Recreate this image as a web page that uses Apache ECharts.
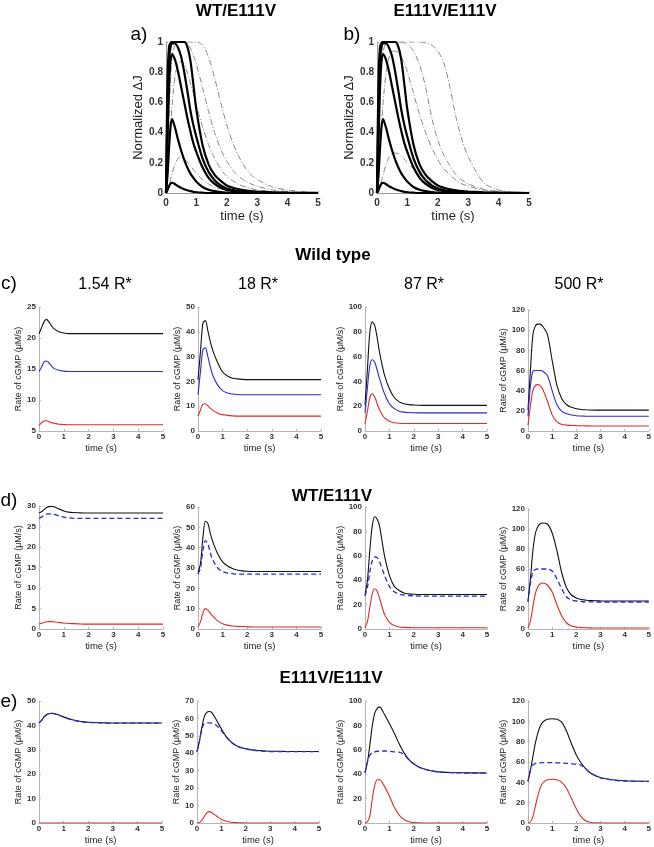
<!DOCTYPE html>
<html>
<head>
<meta charset="utf-8">
<script src="https://cdn.jsdelivr.net/npm/echarts@6/dist/echarts.min.js"></script>
<style>html,body{margin:0;padding:0;background:#fff}#main{width:654px;height:847px}</style>
</head>
<body>
<div id="main"></div>
<script>
// sample times (s)
const tTop = [0,0.05,0.1,0.15,0.2,0.3,0.4,0.5,0.6,0.7,0.8,0.9,1.0,1.2,1.4,1.6,1.8,2.0,2.2,2.4,2.6,2.8,3.0,3.5,4.0,4.5,5.0];
const tRate = [0,0.1,0.2,0.3,0.4,0.5,0.6,0.8,1.0,1.2,1.4,1.6,1.8,2.0,2.2,2.4,2.6,2.8,3.0,3.5,4.0,5.0];

// normalized dJ, black (thick) curves, same in a) and b)
const normB1 = [0,0.02,0.045,0.063,0.068,0.058,0.045,0.034,0.025,0.018,0.012,0.008,0.005,0.002,0,0,0,0,0,0,0,0,0,0,0,0,0];
const normB2 = [0,0.12,0.3,0.44,0.49,0.43,0.35,0.28,0.22,0.17,0.13,0.1,0.075,0.04,0.022,0.012,0.006,0.003,0.001,0,0,0,0,0,0,0,0];
const normB3 = [0,0.35,0.7,0.88,0.92,0.88,0.8,0.7,0.6,0.5,0.41,0.33,0.27,0.17,0.1,0.06,0.035,0.02,0.012,0.007,0.004,0.002,0.001,0,0,0,0];
const normB4 = [0,0.55,0.88,0.97,0.99,0.99,0.96,0.9,0.8,0.68,0.55,0.45,0.37,0.23,0.14,0.085,0.05,0.03,0.02,0.012,0.008,0.005,0.003,0.001,0,0,0];
const normB5 = [0,0.75,0.97,0.995,1,1,1,1,1,0.97,0.88,0.72,0.55,0.32,0.19,0.12,0.08,0.05,0.035,0.025,0.018,0.013,0.01,0.005,0.002,0.001,0];
// grey dash-dot curves, a) WT/E111V
const normGa1 = [0,0.02,0.05,0.09,0.13,0.19,0.23,0.235,0.225,0.205,0.18,0.155,0.13,0.09,0.06,0.04,0.027,0.018,0.012,0.008,0.005,0.003,0.002,0.001,0,0,0];
const normGa2 = [0,0.1,0.25,0.42,0.58,0.78,0.86,0.87,0.85,0.8,0.73,0.66,0.58,0.44,0.32,0.23,0.16,0.11,0.08,0.055,0.04,0.03,0.02,0.01,0.005,0.002,0.001];
const normGa3 = [0,0.2,0.5,0.75,0.9,0.98,1,1,1,0.99,0.96,0.91,0.85,0.7,0.54,0.4,0.29,0.21,0.15,0.11,0.08,0.06,0.045,0.02,0.01,0.005,0.002];
const normGa4 = [0,0.4,0.8,0.95,0.99,1,1,1,1,1,1,1,1,0.98,0.9,0.76,0.6,0.45,0.33,0.24,0.17,0.12,0.09,0.04,0.02,0.01,0.005];
// grey dash-dot curves, b) E111V/E111V
const normGb1 = [0,0.015,0.04,0.08,0.12,0.19,0.24,0.26,0.265,0.26,0.245,0.225,0.2,0.16,0.12,0.09,0.065,0.048,0.035,0.025,0.018,0.013,0.009,0.004,0.002,0.001,0];
const normGb2 = [0,0.1,0.27,0.45,0.6,0.8,0.9,0.935,0.94,0.93,0.9,0.86,0.8,0.66,0.52,0.4,0.3,0.22,0.16,0.12,0.085,0.06,0.045,0.02,0.01,0.005,0.002];
const normGb3 = [0,0.3,0.65,0.85,0.94,0.99,1,1,1,1,1,0.995,0.985,0.94,0.85,0.7,0.5,0.35,0.25,0.18,0.12,0.085,0.06,0.025,0.01,0.005,0.002];
const normGb4 = [0,0.4,0.8,0.95,0.99,1,1,1,1,1,1,1,1,1,1,0.995,0.98,0.94,0.86,0.7,0.5,0.35,0.24,0.07,0.02,0.005,0.002];

// rate of cGMP (uM/s) - c) wild type
const c1Black = [20.7,21.6,22.6,23.0,22.6,22.0,21.5,21.0,20.8,20.7,20.7,20.7,20.7,20.7,20.7,20.7,20.7,20.7,20.7,20.7,20.7,20.7];
const c1Blue  = [14.6,15.3,16.1,16.3,16.0,15.5,15.1,14.8,14.65,14.6,14.6,14.6,14.6,14.6,14.6,14.6,14.6,14.6,14.6,14.6,14.6,14.6];
const c1Red   = [5.9,6.3,6.6,6.65,6.5,6.35,6.25,6.1,6.05,6,6,6,6,6,6,6,6,6,6,6,6,6];
const c2Black = [20.7,32,43.5,44.5,40.5,36,32.5,27.5,23.8,22.2,21.3,21,20.8,20.7,20.7,20.7,20.7,20.7,20.7,20.7,20.7,20.7];
const c2Blue  = [14.6,24,32.8,33.5,30,26,22.5,18.5,16.3,15.3,14.9,14.7,14.6,14.6,14.6,14.6,14.6,14.6,14.6,14.6,14.6,14.6];
const c2Red   = [6,8.5,10.8,11,10.2,9.2,8.3,7.2,6.6,6.3,6.1,6,6,6,6,6,6,6,6,6,6,6];
const c3Black = [20.7,50,80,88,85,75,63,45,34,27,23.5,22,21.3,21,20.8,20.7,20.7,20.7,20.7,20.7,20.7,20.7];
const c3Blue  = [14.6,35,53,57.5,55.5,49,42,30,22,18,16,15.2,14.9,14.7,14.6,14.6,14.6,14.6,14.6,14.6,14.6,14.6];
const c3Red   = [6,16,27,30,27.5,22,17,10.5,7.8,6.7,6.2,6,6,6,6,6,6,6,6,6,6,6];
const c4Black = [20.7,60,95,104,106,106,104,96,70,45,32,26,23.5,22,21.3,21,20.8,20.7,20.7,20.7,20.7,20.7];
const c4Blue  = [14.6,45,59,60,60,60,59.5,55,40,26,19.5,17,15.8,15.2,14.9,14.7,14.6,14.6,14.6,14.6,14.6,14.6];
const c4Red   = [6,25,40,45,46,45,42,30,16,9,6.5,5.8,5.5,5.3,5.2,5.1,5,5,5,5,5,5];
// d) WT/E111V
const d1Black = [28.3,28.6,29.1,29.6,29.85,29.9,29.8,29.3,28.8,28.5,28.4,28.35,28.3,28.3,28.3,28.3,28.3,28.3,28.3,28.3,28.3,28.3];
const d1Blue  = [27,27.3,27.7,28,28.1,28.1,28,27.6,27.3,27.1,27,27,27,27,27,27,27,27,27,27,27,27];
const d1Red   = [1.2,1.4,1.6,1.75,1.8,1.8,1.75,1.6,1.45,1.35,1.3,1.25,1.2,1.2,1.2,1.2,1.2,1.2,1.2,1.2,1.2,1.2];
const d2Black = [28,32,45,53,52,47,43,37,33,31,29.8,29,28.6,28.4,28.3,28.3,28.3,28.3,28.3,28.3,28.3,28.3];
const d2Blue  = [27,30,38.5,43.5,42,37.5,34,30,28.2,27.5,27.2,27,27,27,27,27,27,27,27,27,27,27];
const d2Red   = [1,3.5,8,10,9.3,7.8,6.3,4,2.6,1.9,1.5,1.3,1.2,1.1,1,1,1,1,1,1,1,1];
const d3Black = [28,40,65,85,92,90,84,60,44,35,31.5,29.5,28.8,28.5,28.3,28.3,28.3,28.3,28.3,28.3,28.3,28.3];
const d3Blue  = [27,34,47,56,59,58.5,55,44,35,30.5,28.6,27.8,27.4,27.2,27,27,27,27,27,27,27,27];
const d3Red   = [1,6,18,29,33,31,25,12,5.5,2.8,1.7,1.3,1.1,1,1,1,1,1,1,1,1,1];
const d4Black = [28,50,78,95,102,105,106,105,96,78,56,41,34,31,29.5,28.8,28.4,28.2,28.1,28,28,28];
const d4Blue  = [27,45,57,59.5,60,60,60,60,58,50,40,32,29,28,27.5,27.2,27.1,27,27,27,27,27];
const d4Red   = [1,8,22,35,42,45,46,44,37,24,13,6,3,2,1.4,1.2,1.1,1,1,1,1,1];
// e) E111V/E111V
const e1Black = [41,42,43.5,44.4,44.8,45,44.9,44.3,43.5,42.8,42.2,41.8,41.5,41.3,41.2,41.1,41.1,41,41,41,41,41];
const e1Blue  = [41,42,43.4,44.3,44.7,44.9,44.8,44.2,43.4,42.7,42.1,41.7,41.4,41.2,41.1,41,41,40.9,40.9,40.9,40.9,40.9];
const e1Red   = [0,0,0,0,0,0,0,0,0,0,0,0,0,0,0,0,0,0,0,0,0,0];
const e2Black = [41,47,55,61,63.5,64,63.5,59,54,49.6,46.5,44.5,43.3,42.6,42.1,41.7,41.5,41.3,41.2,41.1,41,41];
const e2Blue  = [41,47,54,57,57.5,57.5,57.3,56,53,49.3,46.3,44.4,43.2,42.5,42,41.6,41.3,41.1,41,40.9,40.9,40.9];
const e2Red   = [0,0.3,1.5,3.8,5.8,6.5,6,4,2,1,0.4,0.2,0.1,0,0,0,0,0,0,0,0,0];
const e3Black = [41,50,64,80,90,94,95,89,81.5,73.5,65,57.5,52,48.5,46,44.4,43.3,42.5,41.9,41.4,41.2,41];
const e3Blue  = [41,50,55.5,57.5,58.3,58.8,59,59,58.8,58.3,58,56,51.8,48.3,46,44.4,43.3,42.5,41.9,41.3,41,40.9];
const e3Red   = [0,1,6,20,31,35.5,35.5,30,22,13,6.5,2.8,1,0.3,0.1,0,0,0,0,0,0,0];
const e4Black = [41,52,65,78,88,95,99,102,102.5,102,99,90,78,67,59,53,49,46.5,44.5,42.5,41.5,41];
const e4Blue  = [41,52,57,58.5,59,59.2,59.3,59.3,59.3,59.2,59,58.7,58.3,57.8,57,53,49,46.5,44.5,42.3,41.3,40.8];
const e4Red   = [0,1,6,16,26,34,39,42.5,43,42.5,40,34,24,14,6,2,0.5,0.1,0,0,0,0];

const FONT = '"Liberation Sans", Arial, sans-serif';
const STY = {
  thick:    { color: '#000', width: 2.2 },
  dashdot:  { color: '#8a8a8a', width: 1, type: [6, 2, 1, 2] },
  black:    { color: '#111', width: 1.1 },
  blue:     { color: '#2a2ad0', width: 1.1 },
  blueDash: { color: '#2a2ad0', width: 1.3, type: [5, 3] },
  red:      { color: '#e02a2a', width: 1.1 }
};

const grids = [], xAxes = [], yAxes = [], series = [];

function panel(box, yMin, yMax, yStep, big, yGap, lines) {
  const i = grids.length;
  grids.push({ left: box[0], top: box[1], width: box[2], height: box[3] });
  const lbl = big
    ? { fontSize: 10, fontWeight: 'bold', color: '#333', fontFamily: FONT }
    : { fontSize: 8, fontWeight: 'bold', color: '#333', fontFamily: FONT };
  const axLine = { lineStyle: { color: big ? '#999' : '#b5b5b5', width: 1 } };
  xAxes.push({
    gridIndex: i, type: 'value', min: 0, max: 5, interval: 1,
    name: 'time (s)', nameLocation: 'middle', nameGap: big ? 17 : 12,
    nameTextStyle: { fontSize: big ? 13 : 9.5, color: '#222', fontFamily: FONT, verticalAlign: 'top' },
    axisLine: axLine, axisTick: { inside: true, length: 2, lineStyle: axLine.lineStyle },
    axisLabel: Object.assign({ margin: big ? 5 : 2 }, lbl),
    splitLine: { show: false }
  });
  yAxes.push({
    gridIndex: i, type: 'value', min: yMin, max: yMax, interval: yStep,
    name: big ? 'Normalized \u0394J' : 'Rate of cGMP (\u03bcM/s)',
    nameLocation: 'middle', nameGap: yGap,
    nameTextStyle: { fontSize: big ? 13 : 9, color: '#222', fontFamily: FONT },
    axisLine: Object.assign({ show: true }, axLine),
    axisTick: { show: true, inside: true, length: 2, lineStyle: axLine.lineStyle },
    axisLabel: Object.assign({ margin: 3 }, lbl),
    splitLine: { show: false }
  });
  lines.forEach(([t, v, kind]) => {
    series.push({
      type: 'line', xAxisIndex: i, yAxisIndex: i,
      data: t.map((x, k) => [x, v[k]]),
      symbol: 'none', smooth: 0.3, silent: true,
      lineStyle: STY[kind], z: kind === 'thick' ? 3 : 2
    });
  });
}

function topLines(greys) {
  return greys.map(g => [tTop, g, 'dashdot'])
    .concat([normB1, normB2, normB3, normB4, normB5].map(b => [tTop, b, 'thick']));
}
function rateLines(black, blue, red, dashed) {
  return [[tRate, red, 'red'], [tRate, black, 'black'], [tRate, blue, dashed ? 'blueDash' : 'blue']];
}

panel([166, 42, 152, 151], 0, 1, 0.2, true, 19, topLines([normGa1, normGa2, normGa3, normGa4]));
panel([377, 42, 152, 151], 0, 1, 0.2, true, 19, topLines([normGb1, normGb2, normGb3, normGb4]));

panel([39, 307, 124, 124], 5, 25, 5, false, 13, rateLines(c1Black, c1Blue, c1Red, false));
panel([198, 307, 123, 124], 0, 50, 10, false, 13, rateLines(c2Black, c2Blue, c2Red, false));
panel([365, 307, 122, 124], 0, 100, 20, false, 18, rateLines(c3Black, c3Blue, c3Red, false));
panel([528, 310, 123, 121], 0, 120, 20, false, 17, rateLines(c4Black, c4Blue, c4Red, false));

panel([39, 506, 124, 123], 0, 30, 5, false, 13, rateLines(d1Black, d1Blue, d1Red, true));
panel([198, 507, 123, 122], 0, 60, 10, false, 13, rateLines(d2Black, d2Blue, d2Red, true));
panel([365, 507, 122, 122], 0, 100, 20, false, 18, rateLines(d3Black, d3Blue, d3Red, true));
panel([528, 509, 123, 120], 0, 120, 20, false, 17, rateLines(d4Black, d4Blue, d4Red, true));

panel([39, 701, 123, 122], 0, 50, 10, false, 13, rateLines(e1Black, e1Blue, e1Red, true));
panel([197, 701, 122, 122], 0, 70, 10, false, 13, rateLines(e2Black, e2Blue, e2Red, true));
panel([365, 701, 122, 122], 0, 100, 20, false, 17, rateLines(e3Black, e3Blue, e3Red, true));
panel([528, 701, 122, 122], 0, 120, 20, false, 17, rateLines(e4Black, e4Blue, e4Red, true));

function txt(s, x, y, size, bold) {
  return { type: 'text', x: x, y: y, silent: true,
    style: { text: s, fill: '#000', font: (bold ? 'bold ' : '') + size + 'px ' + FONT, align: 'center', verticalAlign: 'middle' } };
}

const chart = echarts.init(document.getElementById('main'));
chart.setOption({
  animation: false,
  backgroundColor: '#fff',
  grid: grids, xAxis: xAxes, yAxis: yAxes, series: series,
  graphic: [
    txt('WT/E111V', 236, 11, 17, true),
    txt('E111V/E111V', 445, 11, 17, true),
    txt('a)', 139, 35, 19, false),
    txt('b)', 352, 35, 19, false),
    txt('Wild type', 333, 255, 17, true),
    txt('c)', 9, 284, 19, false),
    txt('1.54 R*', 105, 285, 16, false),
    txt('18 R*', 258, 285, 16, false),
    txt('87 R*', 424, 285, 16, false),
    txt('500 R*', 579, 285, 16, false),
    txt('WT/E111V', 332, 496, 17, true),
    txt('d)', 9, 501, 19, false),
    txt('E111V/E111V', 331, 678, 17, true),
    txt('e)', 9, 702, 19, false)
  ]
});
</script>
</body>
</html>
